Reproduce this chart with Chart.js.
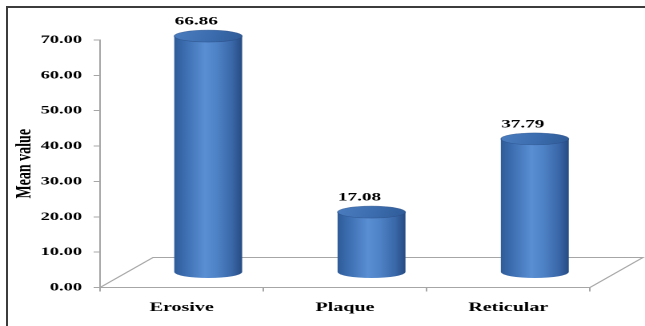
<!DOCTYPE html>
<html>
<head>
<meta charset="utf-8">
<title>Mean value</title>
<script src="https://cdn.jsdelivr.net/npm/chart.js@4.4.1/dist/chart.umd.min.js"></script>
<style>
  html, body { margin: 0; padding: 0; background: #ffffff; }
  #page { position: relative; width: 645px; height: 326px; overflow: hidden; background: #ffffff; }
  #frame { position: absolute; left: 6px; top: 6px; width: 700px; height: 400px;
           border-left: 2px solid #3c3c3c; border-top: 2px solid #3c3c3c; }
  /* the chart is laid out narrow and widened, which gives the broad lettering */
  #plot { position: absolute; left: 0; top: 0; width: 403px; height: 326px;
          transform: scaleX(1.6005); transform-origin: 0 0; }
</style>
</head>
<body>
<div id="page">
  <div id="frame"></div>
  <div id="plot"><canvas id="chart"></canvas></div>
</div>
<script>
const categories = ['Erosive', 'Plaque', 'Reticular'];
const meanValues = [66.86, 17.08, 37.79];
const yTicks = [0, 10, 20, 30, 40, 50, 60, 70];
const yTickLabels = ['0.00', '10.00', '20.00', '30.00', '40.00', '50.00', '60.00', '70.00'];

const SX = 645 / 403;            // horizontal widening of the plot layer
const DEPTH_X = 53 / SX;         // floor depth, sideways
const DEPTH_Y = -30;             // floor depth, upwards
const RY = 6;                    // half height of the cylinder ellipses
const SERIF = "'Liberation Serif', 'Times New Roman', serif";

const cylinders = {
  id: 'cylinders',
  beforeDatasetsDraw(chart) {
    const { ctx, chartArea: a } = chart;
    ctx.save();

    // floor of the 3-D box
    ctx.strokeStyle = '#a6a6a6';
    ctx.lineWidth = 1;
    ctx.beginPath();
    ctx.moveTo(a.right, a.bottom);
    ctx.lineTo(a.right + DEPTH_X, a.bottom + DEPTH_Y);
    ctx.lineTo(a.left + DEPTH_X, a.bottom + DEPTH_Y);
    ctx.lineTo(a.left, a.bottom);
    ctx.stroke();

    const meta = chart.getDatasetMeta(0);
    meta.data.forEach((bar, i) => {
      const { x, y, base, width } = bar.getProps(['x', 'y', 'base', 'width'], true);
      const cx = x + DEPTH_X / 2;
      const top = y + DEPTH_Y / 2;
      const bot = base + DEPTH_Y / 2;
      const rx = width / 2;

      // body
      const g = ctx.createLinearGradient(cx - rx, 0, cx + rx, 0);
      g.addColorStop(0.00, '#2f5c99');
      g.addColorStop(0.18, '#3e70b3');
      g.addColorStop(0.45, '#5a8fd3');
      g.addColorStop(0.62, '#4f83c7');
      g.addColorStop(0.85, '#3a68a9');
      g.addColorStop(1.00, '#264b82');
      ctx.fillStyle = g;
      ctx.beginPath();
      ctx.moveTo(cx - rx, top);
      ctx.lineTo(cx - rx, bot);
      ctx.ellipse(cx, bot, rx, RY, 0, Math.PI, 0, true);
      ctx.lineTo(cx + rx, top);
      ctx.closePath();
      ctx.fill();

      // lid
      const gt = ctx.createLinearGradient(cx - rx, top - RY, cx + rx, top + RY);
      gt.addColorStop(0, '#4a7dbf');
      gt.addColorStop(0.5, '#3d6eb0');
      gt.addColorStop(1, '#2f5b97');
      ctx.fillStyle = gt;
      ctx.beginPath();
      ctx.ellipse(cx, top, rx, RY, 0, 0, Math.PI * 2);
      ctx.fill();
      ctx.strokeStyle = 'rgba(40,75,130,0.6)';
      ctx.lineWidth = 0.6;
      ctx.stroke();

      // value label
      ctx.fillStyle = '#000000';
      ctx.font = 'bold 12px ' + SERIF;
      ctx.textAlign = 'center';
      ctx.textBaseline = 'middle';
      ctx.fillText(meanValues[i].toFixed(2), cx - 12 / SX, top - 14.5);
    });

    ctx.restore();
    return false;
  }
};

new Chart(document.getElementById('chart'), {
  type: 'bar',
  data: {
    labels: categories,
    datasets: [{
      label: 'Mean value',
      data: meanValues,
      backgroundColor: '#4f81bd',
      categoryPercentage: 1,
      barPercentage: 0.416
    }]
  },
  options: {
    responsive: true,
    maintainAspectRatio: false,
    animation: false,
    devicePixelRatio: 2,
    layout: { padding: { top: 40, right: 34.4, bottom: 0, left: 0 } },
    plugins: { legend: { display: false }, tooltip: { enabled: false } },
    scales: {
      x: {
        grid: { drawOnChartArea: false, drawTicks: true, tickLength: 4, tickColor: '#a6a6a6', offset: true },
        border: { display: true, color: '#a6a6a6', width: 1 },
        ticks: { color: '#000000', padding: 9, maxRotation: 0,
                 font: { family: SERIF, size: 12.5, weight: 'bold' } },
        afterFit(scale) { scale.height = 38.5; }
      },
      y: {
        min: yTicks[0],
        max: yTicks[yTicks.length - 1],
        afterBuildTicks(scale) { scale.ticks = yTicks.map(v => ({ value: v })); },
        grid: { drawOnChartArea: false, drawTicks: true, tickLength: 4, tickColor: '#a6a6a6' },
        border: { display: true, color: '#a6a6a6', width: 1 },
        ticks: {
          color: '#000000', padding: 7.3,
          font: { family: SERIF, size: 11.5, weight: 'bold' },
          callback: (v) => yTickLabels[yTicks.indexOf(v)]
        },
        title: {
          display: true, text: 'Mean value', color: '#000000',
          font: { family: SERIF, size: 14, weight: 'bold' },
          padding: { top: 7, bottom: 0 }
        },
        afterFit(scale) { scale.width = 62.5; }
      }
    }
  },
  plugins: [cylinders]
});
</script>
</body>
</html>
